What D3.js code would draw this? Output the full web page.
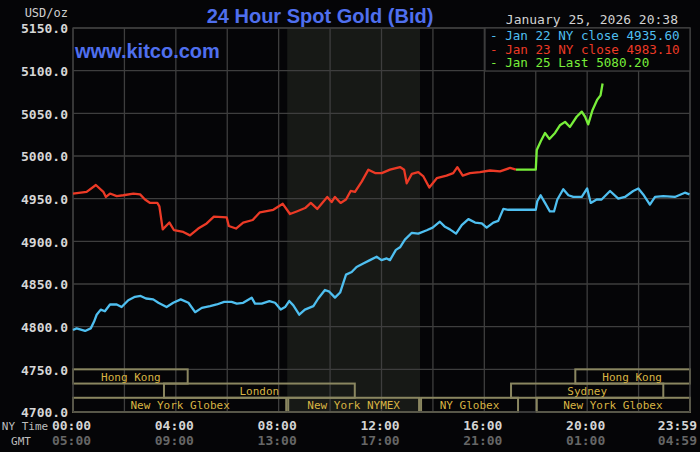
<!DOCTYPE html>
<html>
<head>
<meta charset="utf-8">
<script src="https://cdn.jsdelivr.net/npm/d3@7"></script>
<style>
  html, body { margin: 0; padding: 0; background: #050507; }
  svg { display: block; }
</style>
</head>
<body>
<svg id="chart" width="700" height="452"></svg>
<script>
// ---------------- DATA ----------------
const yTicks = [4700, 4750, 4800, 4850, 4900, 4950, 5000, 5050, 5100, 5150];
const xGridHours = [0, 2, 4, 6, 8, 10, 12, 14, 16, 18, 20, 22, 24];
const xLabelHours = [0, 4, 8, 12, 16, 20];
const nyTimeLabels = ["00:00", "04:00", "08:00", "12:00", "16:00", "20:00"];
const gmtLabels = ["05:00", "09:00", "13:00", "17:00", "21:00", "01:00"];
const lastNyLabel = "23:59";
const lastGmtLabel = "04:59";

// Jan 22 (blue)
const blueHours = [0, 0.14, 0.47, 0.69, 0.82, 0.92, 1.08, 1.24, 1.44, 1.70, 1.89, 2.15, 2.41, 2.63, 2.84, 3.12, 3.32, 3.64, 3.90, 4.19,
  4.49, 4.75, 5.01, 5.33, 5.59, 5.88, 6.17, 6.37, 6.62, 6.95, 7.08, 7.34, 7.64, 7.86, 8.08, 8.25, 8.41, 8.57, 8.80, 9.02,
  9.35, 9.54, 9.80, 9.97, 10.19, 10.39, 10.62, 10.84, 11.03, 11.29, 11.55, 11.81, 12.00, 12.20, 12.33, 12.56, 12.72, 12.91, 13.18, 13.43,
  13.76, 13.99, 14.27, 14.47, 14.66, 14.90, 15.12, 15.38, 15.64, 15.90, 16.09, 16.35, 16.54, 16.74, 16.93, 18.00, 18.06, 18.19, 18.36, 18.55,
  18.71, 18.84, 19.07, 19.27, 19.46, 19.79, 20.00, 20.14, 20.37, 20.56, 20.89, 21.21, 21.47, 21.79, 21.99, 22.18, 22.44, 22.64, 22.96, 23.41,
  23.80, 23.98];
const blueValues = [4796, 4798, 4795, 4798, 4806, 4814, 4820, 4818, 4826, 4826, 4823, 4831, 4835, 4836, 4833, 4832, 4828, 4823, 4828, 4832,
  4828, 4817, 4822, 4824, 4826, 4829, 4829, 4827, 4828, 4834, 4827, 4827, 4830, 4828, 4820, 4823, 4830, 4825, 4814, 4820,
  4824, 4833, 4843, 4841, 4834, 4840, 4861, 4864, 4870, 4874, 4878, 4882, 4878, 4880, 4878, 4890, 4893, 4902, 4910, 4909,
  4913, 4916, 4923, 4917, 4914, 4909, 4919, 4926, 4922, 4921, 4916, 4922, 4924, 4938, 4937, 4937, 4947, 4954, 4945, 4935,
  4935, 4949, 4961, 4954, 4952, 4952, 4962, 4945, 4949, 4949, 4959, 4950, 4952, 4959, 4962, 4955, 4943, 4952, 4953, 4952,
  4957, 4955];

// Jan 23 (red)
const redHours = [0, 0.53, 0.89, 1.18, 1.28, 1.44, 1.70, 1.96, 2.35, 2.61, 2.80, 3.00, 3.28, 3.36, 3.49, 3.75, 3.93, 4.29, 4.55, 4.87,
  5.20, 5.48, 5.98, 6.06, 6.34, 6.62, 6.99, 7.27, 7.79, 8.16, 8.44, 8.70, 9.03, 9.25, 9.50, 9.89, 10.06, 10.19, 10.41, 10.62,
  10.80, 10.97, 11.23, 11.49, 11.75, 12.01, 12.33, 12.72, 12.88, 12.98, 13.18, 13.43, 13.63, 13.86, 14.15, 14.53, 14.79, 14.95, 15.16, 15.44,
  15.83, 16.22, 16.61, 17.00, 17.23];
const redValues = [4956, 4958, 4966, 4958, 4952, 4956, 4953, 4954, 4956, 4955, 4949, 4945, 4945, 4941, 4914, 4922, 4913, 4911, 4907, 4915,
  4921, 4929, 4928, 4918, 4915, 4922, 4925, 4934, 4937, 4944, 4932, 4935, 4939, 4945, 4938, 4952, 4946, 4952, 4945, 4949,
  4959, 4958, 4970, 4984, 4980, 4980, 4984, 4987, 4984, 4968, 4979, 4981, 4976, 4963, 4974, 4977, 4980, 4987, 4977, 4980,
  4981, 4983, 4982, 4986, 4984];

// Jan 25 (green)
const greenHours = [17.23, 18.00, 18.04, 18.19, 18.36, 18.53, 18.75, 18.94, 19.14, 19.33, 19.59, 19.79, 19.92, 20.04, 20.21, 20.39, 20.52, 20.60];
const greenValues = [4984, 4984, 5007, 5017, 5027, 5020, 5027, 5036, 5040, 5034, 5046, 5052, 5046, 5037, 5054, 5066, 5071, 5085];

const legendLabels = ["Jan 22 NY close 4935.60", "Jan 23 NY close 4983.10", "Jan 25 Last 5080.20"];

// Trading sessions
const sessionNames = ["Hong Kong", "Hong Kong", "London", "Sydney", "New York Globex", "New York NYMEX", "NY Globex", "New York Globex"];
const sessionStarts = [0, 19.5, 3.5, 17, 0, 8.333, 13.5, 18];
const sessionEnds = [4.5, 24, 11, 23, 8.333, 13.5, 17.35, 24];
const sessionRows = [0, 0, 1, 1, 2, 2, 2, 2];
const nymexShade = [8.333, 13.5];

// ---------------- DRAW ----------------
const svg = d3.select("#chart");
const L = 73, R = 690, T = 28, B = 412;
const x = d3.scaleLinear().domain([0, 24]).range([L, R]);
const y = d3.scaleLinear().domain([4700, 5150]).range([B, T]);

const mono = "'DejaVu Sans Mono', 'Liberation Mono', monospace";
const sans = "'Liberation Sans', Arial, sans-serif";
const gridColor = "#3e3e3e";

svg.append("rect").attr("width", 700).attr("height", 452).attr("fill", "#050507");

// shaded NYMEX area
svg.append("rect")
  .attr("x", x(nymexShade[0])).attr("y", T)
  .attr("width", x(nymexShade[1]) - x(nymexShade[0])).attr("height", B - T)
  .attr("fill", "#171916");

// gridlines
svg.append("g").selectAll("line").data(yTicks).join("line")
  .attr("x1", L).attr("x2", R).attr("y1", d => y(d)).attr("y2", d => y(d))
  .attr("stroke", gridColor).attr("stroke-width", 1.3);
svg.append("g").selectAll("line").data(xGridHours).join("line")
  .attr("y1", T).attr("y2", B).attr("x1", d => x(d)).attr("x2", d => x(d))
  .attr("stroke", gridColor).attr("stroke-width", 1.3);

// y axis labels
const yAxis = d3.axisLeft(y).tickValues(yTicks).tickFormat(d => d.toFixed(1)).tickSize(0).tickPadding(5);
const yg = svg.append("g").attr("transform", `translate(${L},0)`).call(yAxis);
yg.select(".domain").remove();
yg.selectAll("text").attr("font-family", mono).attr("font-size", 13).attr("font-weight", "bold")
  .attr("fill", "#d6d6d6").attr("dy", "0.36em");

svg.append("text").attr("x", 68).attr("y", 17).attr("text-anchor", "end")
  .attr("font-family", mono).attr("font-size", 12).attr("fill", "#cfcfcf").text("USD/oz");

// x axis labels (NY time + GMT)
const xAxisNY = d3.axisBottom(x).tickValues(xLabelHours).tickFormat((d, i) => nyTimeLabels[i]).tickSize(0).tickPadding(0);
const xg1 = svg.append("g").attr("transform", `translate(-2,${B})`).call(xAxisNY);
xg1.select(".domain").remove();
xg1.selectAll("text").attr("font-family", mono).attr("font-size", 13).attr("font-weight", "bold")
  .attr("fill", "#d4d4d4").attr("y", 18).attr("dy", 0);
const xAxisGMT = d3.axisBottom(x).tickValues(xLabelHours).tickFormat((d, i) => gmtLabels[i]).tickSize(0).tickPadding(0);
const xg2 = svg.append("g").attr("transform", `translate(-2,${B})`).call(xAxisGMT);
xg2.select(".domain").remove();
xg2.selectAll("text").attr("font-family", mono).attr("font-size", 13).attr("font-weight", "bold")
  .attr("fill", "#666666").attr("y", 33).attr("dy", 0);

svg.append("text").attr("x", x(24) + 7).attr("y", B + 18).attr("text-anchor", "end")
  .attr("font-family", mono).attr("font-size", 13).attr("font-weight", "bold").attr("fill", "#d4d4d4").text(lastNyLabel);
svg.append("text").attr("x", x(24) + 7).attr("y", B + 33).attr("text-anchor", "end")
  .attr("font-family", mono).attr("font-size", 13).attr("font-weight", "bold").attr("fill", "#666666").text(lastGmtLabel);

svg.append("text").attr("x", 25).attr("y", B + 18).attr("text-anchor", "middle")
  .attr("font-family", mono).attr("font-size", 11).attr("fill", "#bdbdbd").text("NY Time");
svg.append("text").attr("x", 21).attr("y", B + 33).attr("text-anchor", "middle")
  .attr("font-family", mono).attr("font-size", 11).attr("fill", "#bdbdbd").text("GMT");

// sessions
const rowTop = y(4750);
const rowH = (y(4700) - y(4750)) / 3;
const sessions = sessionNames.map((n, i) => ({ name: n, s: sessionStarts[i], e: sessionEnds[i], r: sessionRows[i] }));
const sg = svg.append("g");
sg.selectAll("rect").data(sessions).join("rect")
  .attr("x", d => x(d.s) + (d.s > 0 ? 1 : 0))
  .attr("y", d => rowTop + d.r * rowH)
  .attr("width", d => x(d.e) - x(d.s) - (d.s > 0 ? 1 : 0) - (d.e < 24 ? 1 : 0))
  .attr("height", rowH)
  .attr("fill", "none").attr("stroke", "#8a8660").attr("stroke-width", 2);
sg.selectAll("text").data(sessions).join("text")
  .attr("x", d => (x(d.s) + x(d.e)) / 2)
  .attr("y", d => rowTop + (d.r + 1) * rowH - 3)
  .attr("text-anchor", "middle")
  .attr("font-family", mono).attr("font-size", 11).attr("fill", "#d8b443")
  .text(d => d.name);

// plot border
svg.append("rect").attr("x", L).attr("y", T).attr("width", R - L).attr("height", B - T)
  .attr("fill", "none").attr("stroke", gridColor).attr("stroke-width", 1.3);

// lines
const line = d3.line().x(d => x(d.h)).y(d => y(d.v));
const series = [
  { hours: blueHours, values: blueValues, color: "#4fbff0" },
  { hours: redHours, values: redValues, color: "#ec3a26" },
  { hours: greenHours, values: greenValues, color: "#78ee3a" }
];
series.forEach(s => {
  const pts = s.hours.map((h, i) => ({ h: h, v: s.values[i] }));
  svg.append("path").datum(pts).attr("d", line)
    .attr("fill", "none").attr("stroke", s.color).attr("stroke-width", 2.3)
    .attr("stroke-linejoin", "round");
});

// legend
const lg = svg.append("g");
lg.append("rect").attr("x", 485).attr("y", T).attr("width", R - 485).attr("height", 43)
  .attr("fill", "#050507").attr("stroke", gridColor).attr("stroke-width", 1.3);
lg.selectAll("text").data(legendLabels).join("text")
  .attr("x", 490).attr("y", (d, i) => T + 12 + i * 13.7)
  .attr("font-family", mono).attr("font-size", 12.6)
  .attr("fill", (d, i) => series[i].color)
  .text(d => "- " + d);

// titles
svg.append("text").attr("x", 320).attr("y", 23).attr("text-anchor", "middle")
  .attr("font-family", sans).attr("font-size", 20).attr("font-weight", "bold")
  .attr("fill", "#4f6fee").text("24 Hour Spot Gold (Bid)");
svg.append("text").attr("x", 75).attr("y", 58)
  .attr("font-family", sans).attr("font-size", 20).attr("font-weight", "bold")
  .attr("fill", "#4f6fee").text("www.kitco.com");
svg.append("text").attr("x", 678).attr("y", 24).attr("text-anchor", "end")
  .attr("font-family", mono).attr("font-size", 13).attr("fill", "#d2d2d2")
  .text("January 25, 2026 20:38");
</script>
</body>
</html>
